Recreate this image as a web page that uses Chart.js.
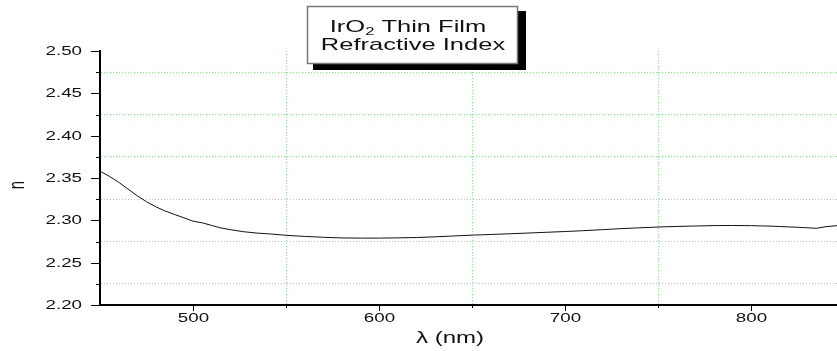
<html>
<head>
<meta charset="UTF-8">
<script src="https://cdn.jsdelivr.net/npm/chart.js@4.4.1/dist/chart.umd.min.js"></script>
<style>
  body { margin: 0; background: #fff; overflow: hidden; }
</style>
</head>
<body>
<canvas id="nplot" width="837" height="351"></canvas>

<script>
// wavelength (nm) and refractive index
var wavelength = [450, 455, 460, 465, 470, 475, 480, 485, 490, 495, 500, 505, 510, 515, 520, 527, 534, 541, 550,
  560, 570, 580, 590, 600, 610, 620, 630, 640, 650, 660, 670, 680, 690, 700, 710, 720, 730, 740, 750,
  760, 770, 780, 790, 800, 805, 810, 815, 820, 825, 830, 835, 840, 846];
var nIndex = [2.358, 2.352, 2.345, 2.337, 2.329, 2.322, 2.316, 2.311, 2.307, 2.303, 2.299, 2.297, 2.294, 2.291, 2.289, 2.2866, 2.285, 2.284, 2.2823,
  2.281, 2.2800, 2.2792, 2.2790, 2.2790, 2.2793, 2.2797, 2.2805, 2.2815, 2.2825, 2.2833, 2.2841, 2.2850, 2.2859, 2.2868, 2.2878, 2.2890, 2.2902, 2.2912, 2.2921,
  2.2928, 2.2933, 2.2938, 2.2939, 2.2937, 2.2934, 2.2932, 2.2927, 2.2922, 2.2918, 2.2912, 2.2906, 2.2925, 2.2937];

var xMajor = [500, 600, 700, 800];
var xMinor = [550, 650, 750];
var yMajor = ['2.20', '2.25', '2.30', '2.35', '2.40', '2.45', '2.50'];
var yMinor = [2.225, 2.275, 2.325, 2.375, 2.425, 2.475];

var titleLines = ['IrO', '2', ' Thin Film', 'Refractive Index'];
var xTitle = 'λ (nm)';
var yTitle = 'n';

var S = 1.5; // text in the picture is drawn wide
var FONT = '"Liberation Sans", Arial, sans-serif';

function wideText(ctx, txt, x, y, align, base, size, rot) {
  ctx.save();
  ctx.translate(x, y);
  ctx.scale(S, 1);
  if (rot) ctx.rotate(rot);
  ctx.font = size + 'px ' + FONT;
  ctx.textAlign = align;
  ctx.textBaseline = base;
  ctx.fillStyle = '#111';
  ctx.fillText(txt, 0, 0);
  ctx.restore();
}

var decor = {
  id: 'decor',
  afterDraw: function(chart) {
    var ctx = chart.ctx, a = chart.chartArea;
    var xs = chart.scales.x, ys = chart.scales.y;
    ctx.save();
    ctx.strokeStyle = '#000';
    ctx.lineWidth = 1;
    // x ticks
    xMajor.forEach(function(v) {
      var px = Math.round(xs.getPixelForValue(v)) + 0.5;
      ctx.beginPath(); ctx.moveTo(px, a.bottom); ctx.lineTo(px, a.bottom + 6); ctx.stroke();
      wideText(ctx, String(v), px, a.bottom + 14, 'center', 'middle', 12.5);
    });
    xMinor.forEach(function(v) {
      var px = Math.round(xs.getPixelForValue(v)) + 0.5;
      ctx.beginPath(); ctx.moveTo(px, a.bottom); ctx.lineTo(px, a.bottom + 3); ctx.stroke();
    });
    // y ticks
    yMajor.forEach(function(t) {
      var py = Math.round(ys.getPixelForValue(parseFloat(t))) + 0.5;
      ctx.beginPath(); ctx.moveTo(a.left - 9, py); ctx.lineTo(a.left, py); ctx.stroke();
      wideText(ctx, t, a.left - 18, py, 'right', 'middle', 12.5);
    });
    yMinor.forEach(function(v) {
      var py = Math.round(ys.getPixelForValue(v)) + 0.5;
      ctx.beginPath(); ctx.moveTo(a.left - 4, py); ctx.lineTo(a.left, py); ctx.stroke();
    });
    // axis titles
    wideText(ctx, xTitle, 450, 339, 'center', 'middle', 16);
    wideText(ctx, yTitle, 18, (a.top + a.bottom) / 2 + 7, 'center', 'middle', 15, -Math.PI / 2);

    // title box with shadow
    ctx.fillStyle = '#000';
    ctx.fillRect(313, 11, 213, 59);
    ctx.fillStyle = '#fff';
    ctx.fillRect(307, 6, 211, 58);
    ctx.strokeStyle = '#777';
    ctx.lineWidth = 1.5;
    ctx.strokeRect(307.5, 6.5, 210, 57);

    // line 1: IrO2 Thin Film with subscript
    var f1 = 17, fs = 11, cx = 408;
    ctx.font = f1 + 'px ' + FONT;
    var w1 = ctx.measureText(titleLines[0]).width;
    var w3 = ctx.measureText(titleLines[2]).width;
    ctx.font = fs + 'px ' + FONT;
    var w2 = ctx.measureText(titleLines[1]).width;
    var total = (w1 + w2 + w3) * S;
    var x0 = cx - total / 2;
    wideText(ctx, titleLines[0], x0, 32, 'left', 'alphabetic', f1);
    wideText(ctx, titleLines[1], x0 + w1 * S, 35, 'left', 'alphabetic', fs);
    wideText(ctx, titleLines[2], x0 + (w1 + w2) * S, 32, 'left', 'alphabetic', f1);
    wideText(ctx, titleLines[3], 413, 50, 'center', 'alphabetic', f1);
    ctx.restore();
  }
};

var gridGreen = '#86ea86';

new Chart(document.getElementById('nplot').getContext('2d'), {
  type: 'line',
  data: {
    datasets: [{
      label: 'n',
      data: wavelength.map(function(w, i) { return { x: w, y: nIndex[i] }; }),
      borderColor: '#111',
      borderWidth: 1,
      pointRadius: 0,
      tension: 0,
      fill: false
    }]
  },
  options: {
    responsive: false,
    animation: false,
    layout: { padding: { left: 100, top: 51, right: 0, bottom: 46 } },
    plugins: { legend: { display: false }, tooltip: { enabled: false }, title: { display: false } },
    scales: {
      x: {
        type: 'linear',
        min: 450,
        max: 846,
        afterBuildTicks: function(s) { s.ticks = xMinor.map(function(v) { return { value: v }; }); },
        ticks: { display: false },
        grid: { color: gridGreen, lineWidth: 1, drawTicks: false },
        border: { display: true, color: '#000', width: 2, dash: [1, 2] }
      },
      y: {
        min: 2.20,
        max: 2.50,
        afterBuildTicks: function(s) { s.ticks = yMinor.map(function(v) { return { value: v }; }); },
        ticks: { display: false },
        grid: { color: gridGreen, lineWidth: 1, drawTicks: false },
        border: { display: true, color: '#000', width: 2, dash: [1, 2] }
      }
    }
  },
  plugins: [decor]
});
</script>
</body>
</html>
